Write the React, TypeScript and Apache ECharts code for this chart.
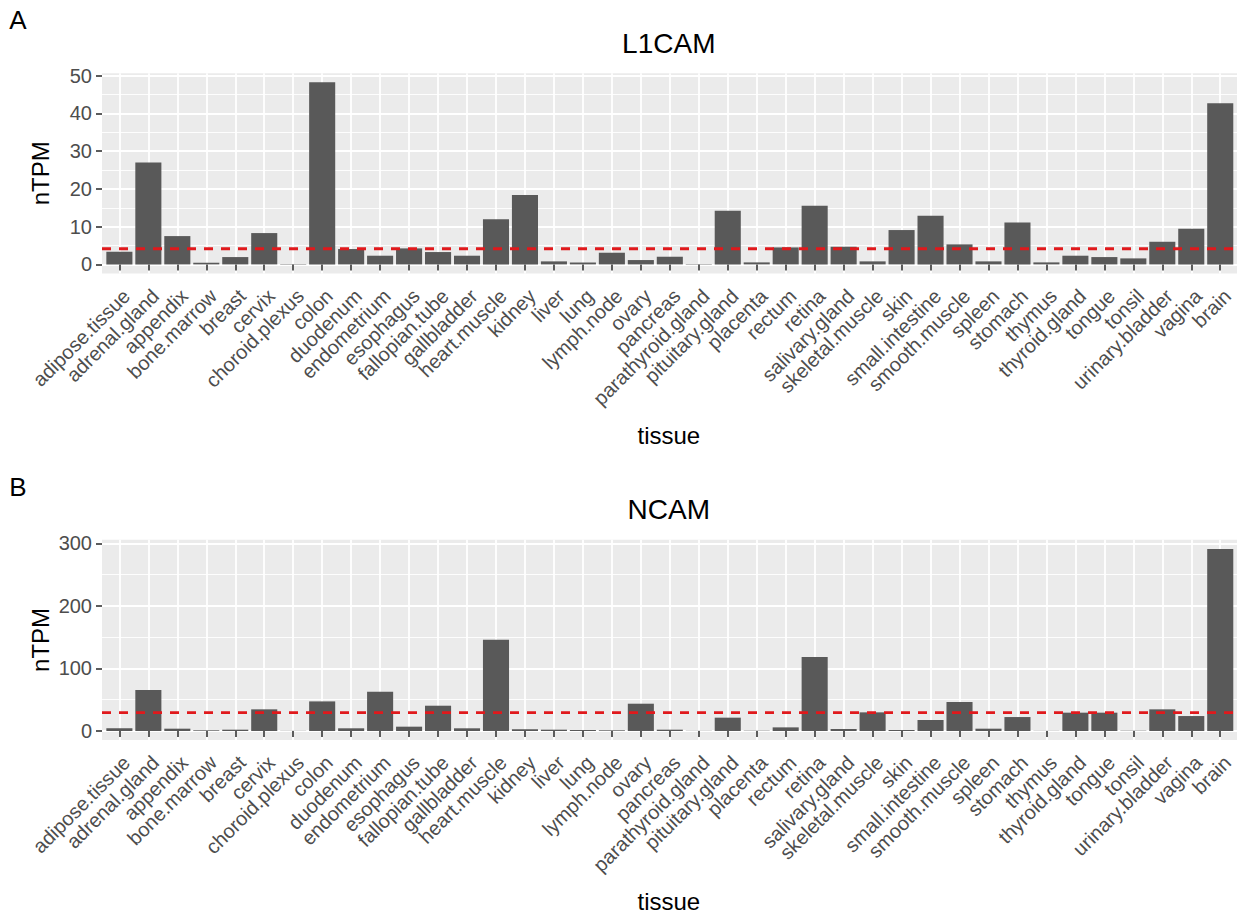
import React, { useEffect, useRef } from "react";
import * as echarts from "echarts";

// ---------------- data ----------------
const tissues = [
  "adipose.tissue", "adrenal.gland", "appendix", "bone.marrow", "breast", "cervix",
  "choroid.plexus", "colon", "duodenum", "endometrium", "esophagus", "fallopian.tube",
  "gallbladder", "heart.muscle", "kidney", "liver", "lung", "lymph.node", "ovary",
  "pancreas", "parathyroid.gland", "pituitary.gland", "placenta", "rectum", "retina",
  "salivary.gland", "skeletal.muscle", "skin", "small.intestine", "smooth.muscle",
  "spleen", "stomach", "thymus", "thyroid.gland", "tongue", "tonsil", "urinary.bladder",
  "vagina", "brain",
];

const l1camValues = [
  3.36, 27.0, 7.5, 0.44, 1.94, 8.3, 0.1, 48.25, 4.07, 2.3, 4.24, 3.27, 2.3, 11.93,
  18.4, 0.8, 0.5, 3.09, 1.15, 2.03, 0.1, 14.2, 0.53, 4.5, 15.55, 4.68, 0.8, 9.1, 12.9,
  5.3, 0.8, 11.13, 0.53, 2.3, 1.94, 1.59, 6.0, 9.46, 42.7,
];

const ncamValues = [
  4.3, 65.4, 3.7, 1.1, 2.1, 34.6, 0.3, 47.3, 4.3, 62.8, 6.9, 40.4, 4.3, 145.7,
  2.7, 2.1, 1.6, 1.1, 43.6, 2.1, 0.3, 21.3, 0.5, 5.8, 118.1, 3.2, 29.8, 1.6, 17.6,
  46.3, 3.7, 22.3, 0.3, 29.3, 29.3, 0.5, 34.6, 23.9, 291.0,
];

const l1camThreshold = 4.15;
const ncamThreshold = 29.3;

const l1camTickMax = 50;
const l1camTickStep = 10;
const ncamTickMax = 300;
const ncamTickStep = 100;

const panelTitles = ["L1CAM", "NCAM"];
const panelTags = ["A", "B"];
const yTitle = "nTPM";
const xTitle = "tissue";

// ---------------- layout ----------------
const FONT = '"Liberation Sans", Arial, Helvetica, sans-serif';
const PANEL_LEFT = 102;
const STEP = 28.97;
const PANEL_W = 39.2 * STEP;
const DATA_LEFT = PANEL_LEFT + 0.6 * STEP;
const DATA_W = 38 * STEP;
const PANEL_CX = PANEL_LEFT + PANEL_W / 2 - 1;
const PANEL_TOPS = [73.2, 539.8];
const PANEL_H = 200.3;
const PANEL_SHIFT = PANEL_TOPS[1] - PANEL_TOPS[0];

const BG = "#EBEBEB";
const BAR = "#595959";
const RED = "#E0191C";
const AXIS_TEXT = "#4D4D4D";
const TICK = "#333333";

export default function App() {
  const ref = useRef<HTMLDivElement>(null);

  useEffect(() => {
    document.body.style.margin = "0";
    if (!ref.current) return;
    const chart = echarts.init(ref.current, undefined, { renderer: "svg" });

    const panels = [
      { values: l1camValues, thr: l1camThreshold, tickMax: l1camTickMax, tickStep: l1camTickStep },
      { values: ncamValues, thr: ncamThreshold, tickMax: ncamTickMax, tickStep: ncamTickStep },
    ];

    const grid: any[] = [];
    const xAxis: any[] = [];
    const yAxis: any[] = [];
    const series: any[] = [];

    panels.forEach((p, k) => {
      const top = PANEL_TOPS[k];
      const maxV = Math.max(...p.values);
      const ymin = -0.05 * maxV;
      const ymax = 1.05 * maxV;
      const ppu = PANEL_H / (ymax - ymin);
      const axisTop = top + (ymax - p.tickMax) * ppu;
      const axisH = p.tickMax * ppu;
      const gBg = k * 3;
      const gAx = k * 3 + 1;
      const gData = k * 3 + 2;

      grid.push(
        { left: PANEL_LEFT, top, width: PANEL_W, height: PANEL_H, show: true, backgroundColor: BG, borderWidth: 0, z: -1 },
        { left: PANEL_LEFT, top: axisTop, width: PANEL_W, height: axisH, show: false },
        { left: DATA_LEFT, top, width: DATA_W, height: PANEL_H, show: false }
      );

      xAxis.push(
        { type: "value", gridIndex: gBg, min: 0, max: 1, show: false },
        { type: "value", gridIndex: gAx, min: 0, max: 1, show: false },
        {
          type: "category",
          gridIndex: gData,
          data: tissues,
          boundaryGap: false,
          axisLine: { show: false },
          axisTick: { show: true, interval: 0, length: 6, lineStyle: { color: TICK, width: 1.6 } },
          axisLabel: {
            interval: 0,
            rotate: 45,
            fontSize: 20,
            fontFamily: FONT,
            color: AXIS_TEXT,
            margin: 12,
            verticalAlign: "top",
          },
          splitLine: { show: true, interval: 0, lineStyle: { color: "#FFFFFF", width: 1.8 } },
        }
      );

      yAxis.push(
        { type: "value", gridIndex: gBg, min: ymin, max: ymax, show: false },
        {
          type: "value",
          gridIndex: gAx,
          min: 0,
          max: p.tickMax,
          interval: p.tickStep,
          axisLine: { show: false },
          axisTick: { show: true, length: 6, lineStyle: { color: TICK, width: 1.6 } },
          axisLabel: { fontSize: 20, fontFamily: FONT, color: AXIS_TEXT, margin: 10 },
          splitLine: { show: true, lineStyle: { color: "#FFFFFF", width: 1.8 } },
          minorTick: { show: false, splitNumber: 2 },
          minorSplitLine: { show: true, lineStyle: { color: "#FFFFFF", width: 0.9 } },
        },
        { type: "value", gridIndex: gData, min: ymin, max: ymax, show: false }
      );

      series.push(
        {
          type: "bar",
          xAxisIndex: gData,
          yAxisIndex: gData,
          data: p.values,
          barWidth: 0.9 * STEP,
          clip: false,
          itemStyle: { color: BAR },
          silent: true,
          z: 2,
        },
        {
          type: "line",
          xAxisIndex: gBg,
          yAxisIndex: gBg,
          data: [
            [0, p.thr],
            [1, p.thr],
          ],
          symbol: "none",
          silent: true,
          lineStyle: { color: RED, width: 2.8, type: [9, 8] },
          z: 5,
        }
      );
    });

    const graphic: any[] = [];
    const txt = (text: string, x: number, y: number, size: number, color: string, rotation = 0) => ({
      type: "text",
      x,
      y,
      rotation,
      silent: true,
      style: {
        text,
        font: `${size}px ${FONT}`,
        fill: color,
        align: "center",
        verticalAlign: "middle",
        textAlign: "center",
        textVerticalAlign: "middle",
      },
    });
    [0, 1].forEach((k) => {
      const dy = k * PANEL_SHIFT;
      graphic.push(txt(panelTags[k], 18, 20 + dy, 26, "#000000"));
      graphic.push(txt(panelTitles[k], PANEL_CX, 43 + dy, 28, "#000000"));
      graphic.push(txt(yTitle, 40, PANEL_TOPS[k] + PANEL_H / 2, 24, "#000000", Math.PI / 2));
      graphic.push(txt(xTitle, PANEL_CX, 435 + dy, 24, "#000000"));
    });

    chart.setOption({
      animation: false,
      backgroundColor: "#FFFFFF",
      grid,
      xAxis,
      yAxis,
      series,
      graphic,
    });

    return () => chart.dispose();
  }, []);

  return <div ref={ref} style={{ width: 1237, height: 915 }} />;
}
